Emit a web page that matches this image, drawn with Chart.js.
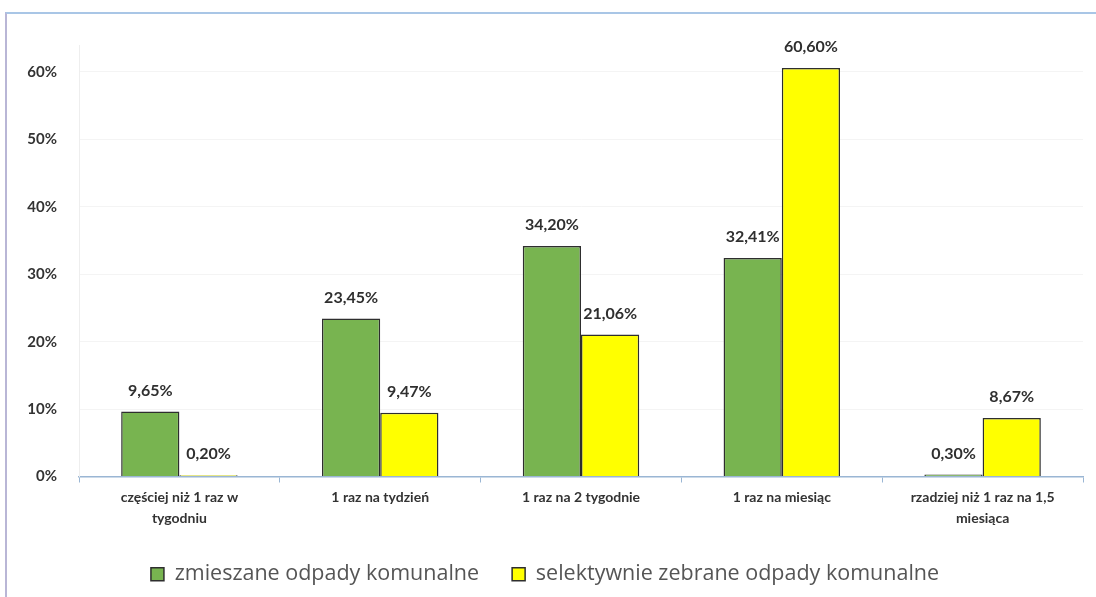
<!DOCTYPE html>
<html>
<head>
<meta charset="utf-8">
<script src="https://cdn.jsdelivr.net/npm/chart.js@4.4.0/dist/chart.umd.min.js"></script>
<style>
  html, body { margin: 0; padding: 0; background: #fff; }
  #frame { position: absolute; left: 5px; top: 12px; width: 1091px; height: 585px;
           border-top: 2px solid #a9c6e6; border-left: 2px solid #b9b6d6; box-sizing: border-box; }
  #wrap { position: absolute; left: 0; top: 0; width: 1089px; height: 583px; }
</style>
</head>
<body>
<div id="frame"><div id="wrap"><canvas id="c"></canvas></div></div>
<script>
const categories = [
  ["częściej niż 1 raz w", "tygodniu"],
  "1 raz na tydzień",
  "1 raz na 2 tygodnie",
  "1 raz na miesiąc",
  ["rzadziej niż 1 raz na 1,5", "miesiąca"]
];
const seriesNames = ["zmieszane odpady komunalne", "selektywnie zebrane odpady komunalne"];
const mixedValues = [9.65, 23.45, 34.20, 32.41, 0.30];
const selectiveValues = [0.20, 9.47, 21.06, 60.60, 8.67];
const yTicks = [0, 10, 20, 30, 40, 50, 60];

const FONT = "Lato, 'Liberation Sans', sans-serif";
const fmt = v => v.toFixed(2).replace('.', ',') + '%';

const labelPlugin = {
  id: 'barLabels',
  afterDatasetsDraw(chart) {
    const ctx = chart.ctx;
    ctx.save();
    ctx.font = "bold 16px " + FONT;
    ctx.fillStyle = '#2f2f2f';
    ctx.textAlign = 'center';
    ctx.textBaseline = 'middle';
    chart.data.datasets.forEach((ds, i) => {
      chart.getDatasetMeta(i).data.forEach((bar, j) => {
        ctx.fillText(fmt(ds.data[j]), bar.x, bar.y - 21);
      });
    });
    ctx.restore();
  }
};

new Chart(document.getElementById('c'), {
  type: 'bar',
  data: {
    labels: categories,
    datasets: [
      { label: seriesNames[0], data: mixedValues, backgroundColor: '#78b450', borderColor: '#2e2e2e',
        borderWidth: 1.5, categoryPercentage: 0.58, barPercentage: 1.0 },
      { label: seriesNames[1], data: selectiveValues, backgroundColor: '#ffff00', borderColor: '#2e2e2e',
        borderWidth: 1.5, categoryPercentage: 0.58, barPercentage: 1.0 }
    ]
  },
  options: {
    responsive: true,
    maintainAspectRatio: false,
    animation: false,
    layout: { padding: { left: 0, right: 13, top: 10, bottom: 2 } },
    plugins: {
      legend: {
        position: 'bottom',
        labels: {
          font: { family: "'Open Sans', sans-serif", size: 21.5 },
          color: '#555',
          boxWidth: 13, boxHeight: 13,
          padding: 33
        }
      },
      tooltip: { enabled: false }
    },
    scales: {
      x: {
        grid: { display: true, drawOnChartArea: false, offset: true, tickLength: 6, color: '#9ab6d4' },
        border: { display: true, color: '#9ab6d4', width: 1.5 },
        ticks: { font: { family: FONT, size: 14, weight: 'bold', lineHeight: 1.5 }, color: '#333', padding: 4, maxRotation: 0, autoSkip: false },
        afterFit(s) { s.height = 54; }
      },
      y: {
        min: 0, max: 64,
        afterBuildTicks(s) { s.ticks = yTicks.map(v => ({ value: v })); },
        grid: { color: 'rgba(0,0,0,0.045)', drawTicks: false },
        border: { display: true, color: '#eeeeee' },
        ticks: { font: { family: FONT, size: 15, weight: 'bold' }, color: '#333', padding: 22,
                 callback: v => v + '%' },
        afterFit(s) { s.width = 72; }
      }
    }
  },
  plugins: [labelPlugin]
});
</script>
</body>
</html>
